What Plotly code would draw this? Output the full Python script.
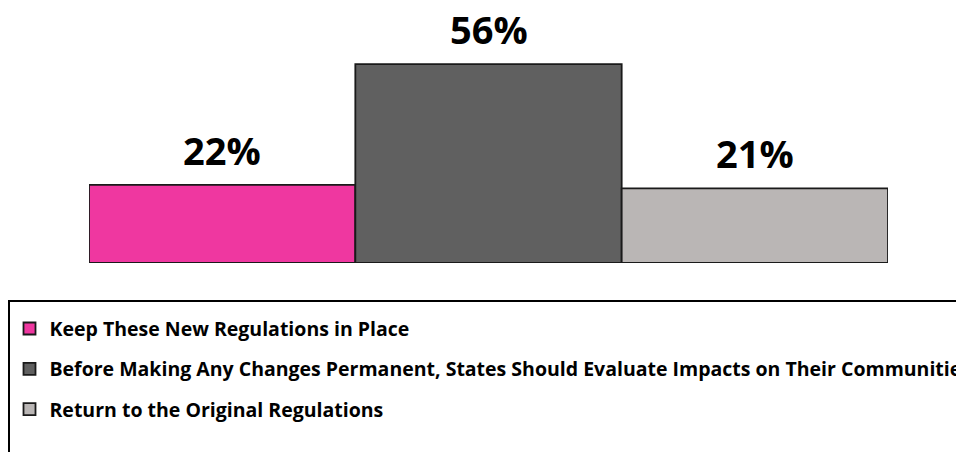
import plotly.graph_objects as go

categories = ["Keep These New Regulations in Place",
              "Before Making Any Changes Permanent, States Should Evaluate Impacts on Their Communities",
              "Return to the Original Regulations"]
values = [22, 56, 21]
labels = ["22%", "56%", "21%"]
colors = ["#EF37A0", "#606060", "#BAB6B5"]

fig = go.Figure()
for i, (c, v, col) in enumerate(zip(categories, values, colors)):
    fig.add_trace(go.Bar(
        x=[i], y=[v], name=c, width=1,
        marker=dict(color=col, line=dict(color="#1a1a1a", width=1.8)),
        legendgroup=str(i), hoverinfo="skip"))
    fig.add_annotation(x=i, y=v, text=labels[i], showarrow=False,
                       yanchor="bottom", yshift=7,
                       font=dict(family="Open Sans", size=38, color="black", weight="bold"))

# blank spacer entry so the legend frame runs past the bottom edge, as in the reference
fig.add_trace(go.Bar(x=[None], y=[None], name="\u00a0", legendgroup="spacer",
                     marker=dict(color="rgba(0,0,0,0)", line=dict(width=0)),
                     hoverinfo="skip"))

fig.update_layout(
    width=964, height=452,
    margin=dict(l=81, r=84, t=12, b=197),
    paper_bgcolor="white", plot_bgcolor="white",
    barmode="overlay",
    showlegend=True,
    xaxis=dict(range=[-0.5, 2.5], visible=False, fixedrange=True),
    yaxis=dict(range=[0, 68.4], visible=False, fixedrange=True),
    legend=dict(xref="paper", yref="container", x=-0.1, y=1 - 292 / 452,
                xanchor="left", yanchor="top",
                bordercolor="black", borderwidth=1.5, bgcolor="white",
                tracegroupgap=12, traceorder="grouped",
                title=dict(text=" ", font=dict(size=6)),
                font=dict(family="Open Sans", size=19.5, color="black", weight="bold")),
)
fig.write_html("out.html")
